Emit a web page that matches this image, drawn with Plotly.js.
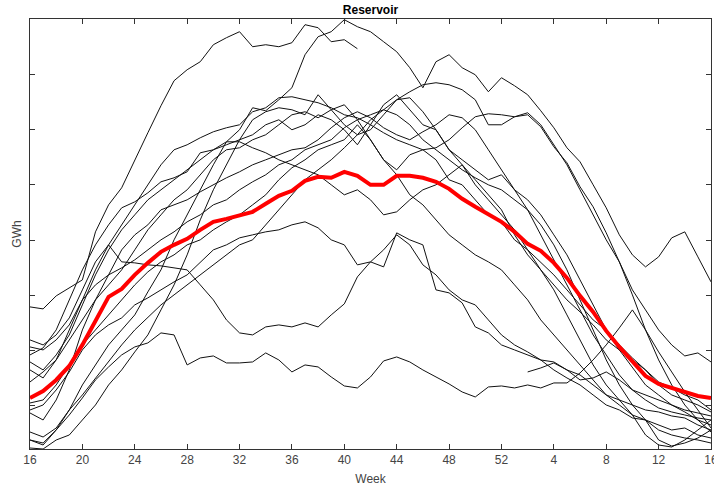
<!DOCTYPE html>
<html>
<head>
<meta charset="utf-8">
<script src="https://cdn.plot.ly/plotly-3.0.1.min.js"></script>
<style>html,body{margin:0;padding:0;background:#fff;}#chart{width:714px;height:486px;}</style>
</head>
<body>
<div id="chart"></div>
<script>
// Week axis: weeks 16..52 then 1..16 of the next year (index 0..52)
const weekLabels = [16,17,18,19,20,21,22,23,24,25,26,27,28,29,30,31,32,33,34,35,36,37,38,39,40,41,42,43,44,45,46,47,48,49,50,51,52,1,2,3,4,5,6,7,8,9,10,11,12,13,14,15,16];
const tickWeeks = [16,20,24,28,32,36,40,44,48,52,4,8,12,16];
const tickIndex = [0,4,8,12,16,20,24,28,32,36,40,44,48,52];
const yTicks = [44, 99.2, 154.5, 209.7, 265, 320.2, 375.4, 430.7];

// Reservoir level per year (GWh, unlabelled scale)
const year01 = [143,141,154,162,170,218,245,262,290,317,344,369,380,388,405,412,418,403,405,403,407,425,422,408,410,401];
const year02 = [10,5,20,40,65,85,105,120,135,158,180,210,235,260,285,308,320,342,339,350,362,395,413,418,430,423,418,408,398,382,362,388,395,382,375,358,372,364,355,339,322,302,288,265,242,215,195,183,193,212,218,193,168];
const year03 = [110,105,115,132,160,188,205,225,245,265,285,300,305,312,318,322,325,338,342,352,353,350,347,342,335,332,325,317,310,305,300,302,310,322,333,336,335,333,337,325,305,285,260,235,210,188,160,140,120,105,94,97,88];
const year04 = [88,80,95,115,145,175,200,220,235,250,260,270,280,290,300,305,310,315,325,330,320,325,335,330,320,305,325,345,355,340,325,320,300,290,280,270,275,260,240,215,190,165,140,115,95,75,60,50,42,38,35,32,30];
const year05 = [80,72,90,110,130,150,165,180,200,220,235,250,260,275,290,300,302,310,315,325,335,338,332,340,345,330,310,290,275,255,245,230,215,205,195,188,180,165,150,130,115,100,85,70,55,45,35,30,25,20,22,15,12];
const year06 = [68,78,90,120,150,180,205,188,187,185,184,182,180,165,150,130,117,115,123,125,123,127,123,135,146,173,188,183,217,210,205,160,157,147,123,117,105,100,95,90,88,80,75,65,55,50,45,40,38,34,32,25,20];
const year07 = [10,7,20,35,52,70,83,95,103,107,117,115,85,92,94,87,87,88,97,90,78,85,83,73,64,62,73,89,93,88,80,73,66,58,53,63,64,62,65,62,67,67,77,90,105,122,140,120,98,78,58,40,22];
const year08 = [103,100,110,125,150,165,175,182,190,200,210,218,228,235,245,250,260,268,275,285,290,300,305,310,322,330,335,340,350,358,365,367,365,360,350,325,325,333,335,323,303,287,263,243,217,188,155,120,90,65,45,30,18];
const year09 = [78,82,87,80,70,72,78,70,60,55,50,45,40,37,34];
const year10 = [95,102,120,150,180,205,225,242,248,257,268,272,278,297,300,308,308,302,297,290,285,280,275,265,255,260,250,235,238,250,260,265,275,285,270,255,240,215,195,180,165,150,138,125,110,100,90,80,65,55,50,45,38];
const year11 = [2,1,10,15,30,45,65,80,98,115,140,165,195,230,260,285,310,330,338,342,340,335,355,340,325,315,320,335,350,352,338,320,300,285,265,250,235,220,200,180,160,135,110,85,65,50,35,15,5,3,10,20,30];
const year12 = [47,50,65,85,105,120,135,150,165,178,188,195,205,210,220,228,235,245,255,270,282,290,300,305,310,325,310,290,280,295,300,290,270,265,250,235,228,210,200,188,175,160,145,130,120,105,92,80,68,62,55,50,40];
const year13 = [40,45,60,78,100,115,125,132,145,152,160,168,175,188,200,205,212,215,218,220,225,228,222,210,205,185,188,200,215,205,185,175,160,150,145,130,115,105,98,90,80,72,65,55,45,40,32,30,10,4,7,12,20];
const year14 = [37,30,50,80,120,150,175,200,215,225,240,245,250,258,265,272,278,285,290,295,300,302,310,322,332,338,332,322,315,310,318,325,335,332,320,300,280,260,250,235,215,195,170,145,120,100,82,65,55,45,38,30,25];
const year15 = [18,13,22,40,55,72,88,105,120,132,145,155,165,175,185,195,205,210,225,240,255,270,280,290,302,315,330,340,335,325,310,300,290,280,272,265,260,250,240,225,205,180,150,120,90,65,45,30,20,15,12,10,7];
const yearStart = [0,0,0,0,0,0,0,0,38,0,0,0,0,0,0];
const meanLevel = [52,59,70,84,105,130,153,161,175,187,198,205,211,220,228,231,234,238,246,254,259,269,273,272,278,274,265,265,274,274,272,268,261,251,243,236,228,218,206,199,187,172,154,138,119,103,88,74,66,62,57,54,52];

const years = [year01,year02,year03,year04,year05,year06,year07,year08,year09,year10,year11,year12,year13,year14,year15];

const traces = [];
years.forEach((vals, k) => {
  const x = vals.map((_, j) => yearStart[k] + j);
  traces.push({x: x, y: vals, type: 'scatter', mode: 'lines',
    line: {color: '#111', width: 1}, hoverinfo: 'skip'});
});
traces.push({x: meanLevel.map((_, j) => j), y: meanLevel, type: 'scatter', mode: 'lines',
  line: {color: '#ff0000', width: 4}, hoverinfo: 'skip'});

const fontFam = 'Liberation Sans, Arial, Helvetica, sans-serif';
const layout = {
  width: 714, height: 486,
  margin: {l: 30, r: 3, t: 19, b: 37},
  paper_bgcolor: '#fff', plot_bgcolor: '#fff',
  showlegend: false,
  font: {family: fontFam, size: 12, color: '#444'},
  title: {text: '<b>Reservoir</b>', x: 0.5, xref: 'paper', xanchor: 'center',
          y: 0.979, yref: 'container', yanchor: 'middle',
          font: {family: fontFam, size: 12, color: '#000'}},
  xaxis: {
    range: [0, 52], tickmode: 'array', tickvals: tickIndex, ticktext: tickWeeks.map(String),
    ticks: 'inside', ticklen: 5, tickcolor: '#333', mirror: 'ticks',
    showline: true, linecolor: '#333', linewidth: 1,
    showgrid: false, zeroline: false, ticklabeloverflow: 'allow',
    tickfont: {family: fontFam, size: 12, color: '#444'},
    title: {text: 'Week', font: {family: fontFam, size: 12, color: '#444'}, standoff: 8}
  },
  yaxis: {
    range: [1, 430.7], tickmode: 'array', tickvals: yTicks,
    showticklabels: false,
    ticks: 'inside', ticklen: 5, tickcolor: '#333', mirror: 'ticks',
    showline: true, linecolor: '#333', linewidth: 1,
    showgrid: false, zeroline: false,
    title: {text: 'GWh', font: {family: fontFam, size: 12, color: '#444'}, standoff: 4}
  }
};
Plotly.newPlot('chart', traces, layout, {staticPlot: true, displayModeBar: false});
</script>
</body>
</html>
